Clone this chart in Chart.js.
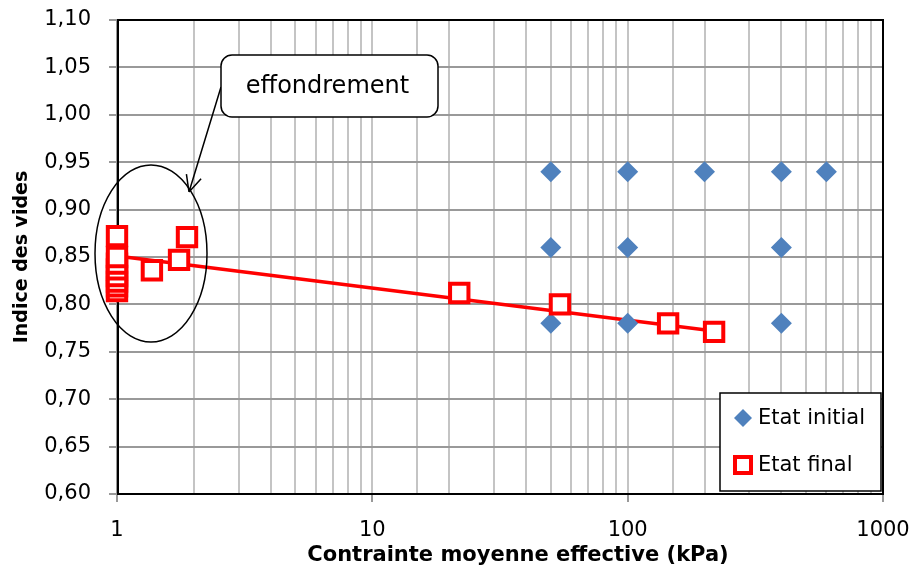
<!DOCTYPE html>
<html>
<head>
<meta charset="utf-8">
<script src="https://cdn.jsdelivr.net/npm/chart.js@4.4.1/dist/chart.umd.min.js"></script>
<style>
html,body{margin:0;padding:0;background:#ffffff;}
#wrap{width:914px;height:569px;}
</style>
</head>
<body>
<div id="wrap"><canvas id="c" width="914" height="569"></canvas></div>
<script>
// ---- data ----
const seriesLabels = ['Etat initial', 'Etat final'];
const initialX = [50, 100, 200, 400, 600, 50, 100, 400, 50, 100, 400];
const initialY = [0.94, 0.94, 0.94, 0.94, 0.94, 0.86, 0.86, 0.86, 0.78, 0.78, 0.78];
const finalX = [1, 1, 1, 1, 1, 1, 1, 1, 1.37, 1.75, 1.88, 21.9, 54.3, 144, 218];
const finalY = [0.814, 0.819, 0.824, 0.830, 0.837, 0.843, 0.850, 0.872, 0.836, 0.847, 0.871, 0.812, 0.800, 0.780, 0.771];
const trendX = [1, 218];
const trendY = [0.851, 0.772];
const xTickLabels = [1, 10, 100, 1000];
const yMin = 0.60, yMax = 1.10, yStep = 0.05;
const xTitle = 'Contrainte moyenne effective (kPa)';
const yTitle = 'Indice des vides';
const calloutText = 'effondrement';

const FONT = 'DejaVu Sans';
const BLUE = '#4F81BD';
const RED = '#FF0000';

const toPts = (xs, ys) => xs.map((x, i) => ({x: x, y: ys[i]}));
const isMajor = v => Math.abs(Math.log10(v) - Math.round(Math.log10(v))) < 1e-9;

const overlay = {
  id: 'overlay',
  beforeDatasetsDraw(chart) {
    const {ctx, chartArea: a} = chart;
    ctx.save();
    ctx.strokeStyle = '#000';
    ctx.lineWidth = 2;
    ctx.strokeRect(a.left + 1, a.top, a.right - a.left - 1, a.bottom - a.top);
    ctx.restore();
  },
  afterDatasetsDraw(chart) {
    const {ctx, chartArea: a} = chart;
    ctx.save();
    // ellipse around collapse points
    ctx.strokeStyle = '#000';
    ctx.lineWidth = 1.5;
    ctx.beginPath();
    ctx.ellipse(a.left + 34, a.top + 233.5, 56, 88.5, 0, 0, Math.PI * 2);
    ctx.stroke();
    // callout arrow
    const sx = a.left + 104, sy = a.top + 67, tx = a.left + 72, ty = a.top + 172;
    ctx.beginPath();
    ctx.moveTo(sx, sy); ctx.lineTo(tx, ty);
    const dx = sx - tx, dy = sy - ty, len = Math.hypot(dx, dy);
    const ux = dx / len, uy = dy / len, L = 18, ang = 0.44;
    for (const s of [1, -1]) {
      const c = Math.cos(s * ang), sn = Math.sin(s * ang);
      ctx.moveTo(tx, ty);
      ctx.lineTo(tx + L * (ux * c - uy * sn), ty + L * (ux * sn + uy * c));
    }
    ctx.stroke();
    // callout box
    const bx = a.left + 104, by = a.top + 35, bw = 217, bh = 62, r = 11;
    ctx.beginPath();
    ctx.roundRect(bx, by, bw, bh, r);
    ctx.fillStyle = '#fff';
    ctx.fill();
    ctx.lineWidth = 1.5;
    ctx.stroke();
    ctx.fillStyle = '#000';
    ctx.font = '24px "' + FONT + '"';
    ctx.textAlign = 'center';
    ctx.textBaseline = 'middle';
    ctx.fillText(calloutText, bx + bw / 2 - 2, by + bh / 2 + 1);
    // legend
    const lx = a.right - 163, ly = a.top + 373, lw = 161, lh = 98;
    ctx.fillStyle = '#fff';
    ctx.fillRect(lx, ly, lw, lh);
    ctx.strokeStyle = '#000';
    ctx.lineWidth = 1.5;
    ctx.strokeRect(lx, ly, lw, lh);
    const ds = chart.data.datasets;
    // diamond
    const d0x = lx + 23, d0y = ly + 25;
    ctx.fillStyle = ds[0].backgroundColor;
    ctx.beginPath();
    ctx.moveTo(d0x - 9, d0y); ctx.lineTo(d0x, d0y - 9); ctx.lineTo(d0x + 9, d0y); ctx.lineTo(d0x, d0y + 9);
    ctx.closePath(); ctx.fill();
    // square
    const d1x = lx + 23, d1y = ly + 72;
    ctx.fillStyle = '#fff';
    ctx.strokeStyle = ds[1].borderColor;
    ctx.lineWidth = 4;
    ctx.fillRect(d1x - 8, d1y - 8, 16, 16);
    ctx.strokeRect(d1x - 8, d1y - 8, 16, 16);
    ctx.fillStyle = '#000';
    ctx.font = '21px "' + FONT + '"';
    ctx.textAlign = 'left';
    ctx.textBaseline = 'middle';
    ctx.fillText(ds[0].label, lx + 38, d0y + 1);
    ctx.fillText(ds[1].label, lx + 38, d1y + 1);
    ctx.restore();
  },
  afterDraw(chart) {
    const {ctx, chartArea: a, height} = chart;
    ctx.save();
    ctx.fillStyle = '#000';
    ctx.font = 'bold 21px "' + FONT + '"';
    ctx.textAlign = 'center';
    ctx.textBaseline = 'middle';
    ctx.fillText(xTitle, (a.left + a.right) / 2 + 18, height - 13);
    ctx.restore();
  }
};

new Chart(document.getElementById('c'), {
  type: 'scatter',
  data: {
    datasets: [
      {
        label: seriesLabels[0],
        data: toPts(initialX, initialY),
        pointStyle: 'rectRot',
        pointRadius: 10.5,
        backgroundColor: BLUE,
        borderWidth: 0,
        clip: false,
        order: 2
      },
      {
        label: seriesLabels[1],
        data: toPts(finalX, finalY),
        pointStyle: 'rect',
        pointRadius: 13,
        backgroundColor: '#ffffff',
        borderColor: RED,
        borderWidth: 4,
        clip: false,
        order: 1
      },
      {
        label: 'trend',
        type: 'line',
        data: toPts(trendX, trendY),
        borderColor: RED,
        borderWidth: 3.5,
        pointRadius: 0,
        fill: false,
        clip: false,
        order: 3
      }
    ]
  },
  options: {
    responsive: false,
    animation: false,
    devicePixelRatio: 1,
    layout: {padding: {top: 20, right: 31, left: 0, bottom: 0}},
    plugins: {legend: {display: false}, tooltip: {enabled: false}},
    scales: {
      x: {
        type: 'logarithmic',
        min: 1, max: 1000,
        afterFit: s => { s.height = 75; s.paddingLeft = 0; s.paddingRight = 0; },
        grid: {
          color: c => (c.tick && (c.tick.value === 1 || c.tick.value === 1000)) ? 'rgba(0,0,0,0)' : '#C4C4C4',
          lineWidth: 2,
          tickColor: c => (c.tick && isMajor(c.tick.value)) ? '#999999' : 'rgba(0,0,0,0)',
          tickLength: 8
        },
        border: {display: true, color: '#999999', width: 2},
        ticks: {
          autoSkip: false, maxRotation: 0, padding: 16, color: '#000',
          font: {family: FONT, size: 21},
          callback: v => (isMajor(v) && xTickLabels.includes(Math.round(v))) ? String(Math.round(v)) : ''
        },
        title: {display: false, text: xTitle}
      },
      y: {
        min: yMin, max: yMax,
        afterFit: s => { s.width = 117; s.paddingTop = 0; s.paddingBottom = 0; },
        grid: {
          color: c => (c.tick && (Math.abs(c.tick.value - yMin) < 1e-9 || Math.abs(c.tick.value - yMax) < 1e-9)) ? 'rgba(0,0,0,0)' : '#999999',
          lineWidth: 2,
          tickColor: '#999999',
          tickLength: 8
        },
        border: {display: true, color: '#999999', width: 2},
        ticks: {
          stepSize: yStep, padding: 18, color: '#000',
          font: {family: FONT, size: 21},
          callback: v => v.toFixed(2).replace('.', ',')
        },
        title: {display: true, text: yTitle, color: '#000', font: {family: FONT, size: 19, weight: 'bold'}, padding: {top: 11, bottom: 0}}
      }
    }
  },
  plugins: [overlay]
});
</script>
</body>
</html>
